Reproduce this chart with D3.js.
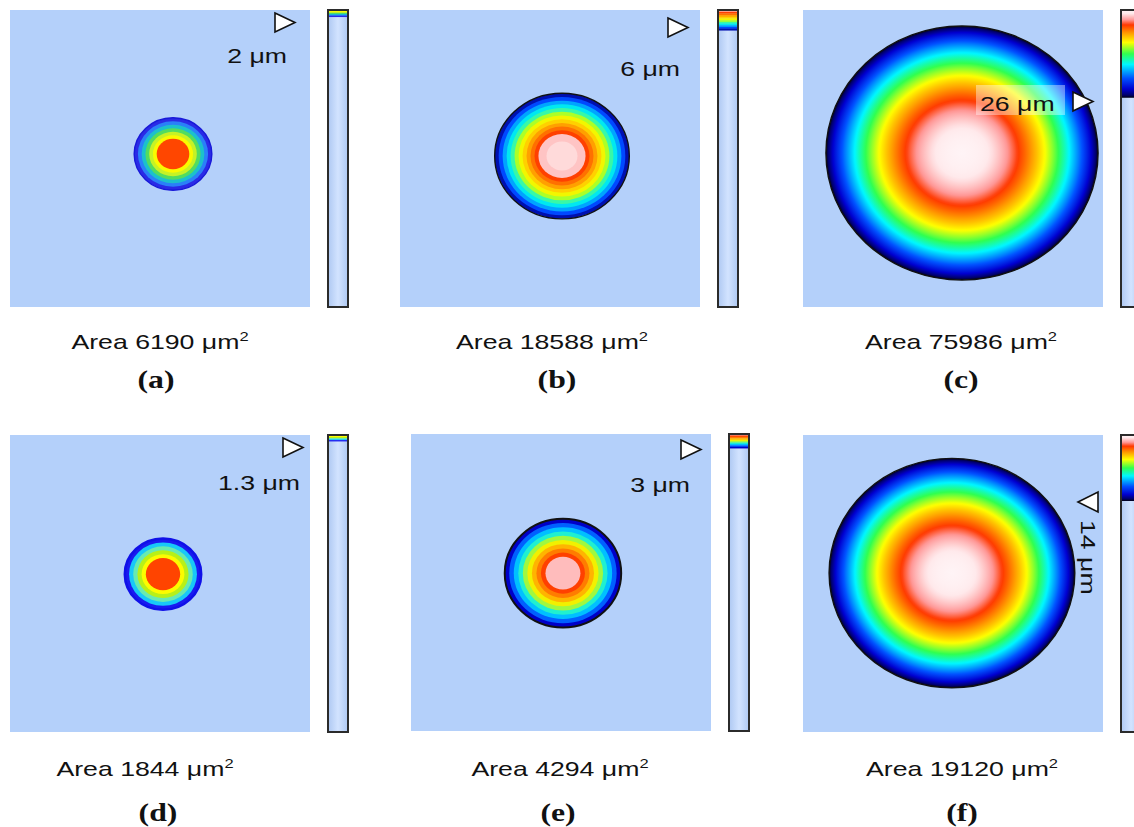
<!DOCTYPE html>
<html>
<head>
<meta charset="utf-8">
<script src="https://cdn.jsdelivr.net/npm/d3@7"></script>
<style>
  body { margin: 0; background: #fff; }
  svg { display: block; }
</style>
</head>
<body>
<svg id="fig" width="1134" height="827"></svg>
<script>
// ---- data ----
const panelIds = ["a", "b", "c", "d", "e", "f"];
const areas = [6190, 18588, 75986, 1844, 4294, 19120];      // um^2
const depths = [2, 6, 26, 1.3, 3, 14];                       // um
const fieldOfView = [360, 360, 360, 200, 200, 200];          // um across each map
const colorbarMax = [88, 88, 88, 63, 63, 63];                // um over the full bar
const craterX = [15.6, 14.4, 10.8, 2, 1.3, -0.7];            // crater centre offset, um
const craterY = [-5.4, -3, -6.6, -6.3, -6.3, -7];
// filled contour bands, rim -> centre (null = continuous shading)
const contourColors = [
    ["#2a2ae6", "#2a80f8", "#1cc0cc", "#52dc60", "#c6f226", "#fafa00"],
    ["#0010b0", "#0048ff", "#00a4ff", "#00e8f0", "#38f8a8", "#acff28", "#f2f600", "#ffd000", "#ffa000", "#ff7000", "#ff4000"],
    null,
    ["#1a1af0", "#18c8f8", "#68eab0", "#b8f018", "#fcfc00"],
    ["#0000c8", "#0060ff", "#00c0ff", "#20f0d0", "#a0f840", "#f2f000", "#ffb400", "#ff7c00", "#ff4000"],
    null
];
const coreColors = ["#ff4600", "#ffc4c4", null, "#ff4400", "#ffbcbc", null];
const coreFraction = [0.42, 0.35, null, 0.45, 0.3, null];
const innerCoreFraction = [null, 0.23, null, null, null, null];
const innerCoreColor = "#ffdada";
const rimColors = ["#1818d8", "#111", "#111", "#1010e8", "#111", "#111"];
// continuous colour map, 0 = rim, 1 = deepest point
const cmapStops = [0, 0.03, 0.1, 0.22, 0.38, 0.5, 0.63, 0.74, 0.83, 0.89, 0.96, 1];
const cmapColors = ["#000010", "#00006a", "#0000d0", "#0050ff", "#00f8ff", "#30ff50",
    "#ffff00", "#ff9800", "#ff3800", "#ff9a9a", "#ffe8ea", "#fff4f6"];

// ---- layout ----
const origins = [[10, 10], [400, 10], [803, 10], [10, 435], [411, 434], [803, 435]];
const captionX = [160, 552, 961, 145, 560, 962];
const letterX = [156, 557, 961, 158, 558, 962];
const captionY = [349, 349, 349, 776, 776, 776];
const letterY = [388, 388, 388, 821, 821, 821];
// depth marker: [triangle x, triangle y, text x, text y]
const markerPos = [[265, 3, 277, 53], [268, 8, 280, 66], [270, 82, 177, 101],
    [273, 3, 290, 55], [270, 6, 279, 58], [275, 57, 278, 85]];
const markerMode = ["corner", "corner", "boxed", "corner", "corner", "rotated"];

const mapW = 300, mapH = 297, barX = 318, barW = 20;
const stretchX = 1.05, stretchY = 0.99;   // scans are a touch wider than tall
const textStretch = 1.27;                 // lettering in the figure is stretched sideways
const bg = "#b4d0fa";
const sans = "'Liberation Sans', Arial, sans-serif";
const serif = "'Liberation Serif', 'Times New Roman', serif";

const cmap = d3.scaleLinear().domain(cmapStops).range(cmapColors).clamp(true);

const svg = d3.select("#fig");
const defs = svg.append("defs");

const barFill = defs.append("linearGradient").attr("id", "barFill")
    .attr("x1", 0).attr("x2", 1).attr("y1", 0).attr("y2", 0);
barFill.append("stop").attr("offset", 0).attr("stop-color", "#aec8f2");
barFill.append("stop").attr("offset", 0.5).attr("stop-color", "#d2e3ff");
barFill.append("stop").attr("offset", 1).attr("stop-color", "#aec8f2");

function tri(g, x0, y0, dir) {
    let pts;
    if (dir === "left") pts = [[x0, y0 + 10], [x0 + 20, y0], [x0 + 20, y0 + 20]];
    else pts = [[x0, y0], [x0 + 20, y0 + 9.5], [x0, y0 + 19]];
    g.append("path")
        .attr("d", d3.line()(pts) + "Z")
        .attr("fill", "#fff")
        .attr("stroke", "#111")
        .attr("stroke-width", 1.6);
}

panelIds.forEach(function (id, i) {
    const [ox, oy] = origins[i];
    const g = svg.append("g").attr("transform", `translate(${ox},${oy})`);
    const half = fieldOfView[i] / 2;
    const x = d3.scaleLinear().domain([-half, half]).range([0, mapW]);
    const y = d3.scaleLinear().domain([-half, half]).range([0, mapH]);

    defs.append("clipPath").attr("id", `clip-${id}`)
        .append("rect").attr("width", mapW).attr("height", mapH);

    g.append("rect").attr("width", mapW).attr("height", mapH).attr("fill", bg);

    const m = g.append("g").attr("clip-path", `url(#clip-${id})`);
    const rUm = Math.sqrt(areas[i] / Math.PI);
    const cx = x(craterX[i]), cy = y(craterY[i]);
    const rx = (x(rUm) - x(0)) * stretchX, ry = (y(rUm) - y(0)) * stretchY;

    const cols = contourColors[i];
    if (cols) {
        const n = cols.length, core = coreFraction[i];
        const rings = cols.map((c, k) => ({ f: 1 - k * (1 - core) / n, c: c }));
        rings.push({ f: core, c: coreColors[i] });
        if (innerCoreFraction[i]) rings.push({ f: innerCoreFraction[i], c: innerCoreColor });
        m.selectAll("ellipse.band").data(rings).enter().append("ellipse")
            .attr("class", "band")
            .attr("cx", cx).attr("cy", cy)
            .attr("rx", d => rx * d.f).attr("ry", d => ry * d.f)
            .attr("fill", d => d.c);
    } else {
        const grad = defs.append("radialGradient").attr("id", `grad-${id}`);
        // paraboloid crater: depth fraction t = 1 - rho^2
        d3.range(0, 81).forEach(function (s) {
            const t = 1 - s / 80;
            grad.append("stop")
                .attr("offset", Math.sqrt(1 - t))
                .attr("stop-color", cmap(t));
        });
        m.append("ellipse")
            .attr("cx", cx).attr("cy", cy).attr("rx", rx).attr("ry", ry)
            .attr("fill", `url(#grad-${id})`);
    }
    m.append("ellipse")
        .attr("cx", cx).attr("cy", cy).attr("rx", rx).attr("ry", ry)
        .attr("fill", "none")
        .attr("stroke", rimColors[i])
        .attr("stroke-width", i === 3 ? 2.6 : i === 4 ? 2 : 1.4);

    // colour bar
    const bar = d3.scaleLinear().domain([0, colorbarMax[i]]).range([0, mapH]);
    g.append("rect").attr("x", barX).attr("y", 0).attr("width", barW).attr("height", mapH)
        .attr("fill", "url(#barFill)");
    const hb = bar(depths[i]);
    if (cols) {
        const stripes = [coreColors[i]].concat(cols.slice().reverse());
        const sy = d3.scaleBand().domain(d3.range(stripes.length)).range([0, hb]);
        g.selectAll("rect.stripe").data(stripes).enter().append("rect")
            .attr("class", "stripe")
            .attr("x", barX).attr("y", (d, k) => sy(k))
            .attr("width", barW).attr("height", sy.bandwidth() + 0.3)
            .attr("fill", d => d);
    } else {
        const lg = defs.append("linearGradient").attr("id", `bar-${id}`)
            .attr("x1", 0).attr("x2", 0).attr("y1", 0).attr("y2", 1);
        cmapStops.slice().reverse().forEach(function (t) {
            lg.append("stop").attr("offset", 1 - t).attr("stop-color", cmap(t));
        });
        g.append("rect").attr("x", barX).attr("y", 0).attr("width", barW).attr("height", hb)
            .attr("fill", `url(#bar-${id})`);
    }
    g.append("rect").attr("x", barX).attr("y", 0).attr("width", barW).attr("height", mapH)
        .attr("fill", "none").attr("stroke", "#2b2b2b").attr("stroke-width", 2);

    // depth marker
    const [tx, ty, lx, ly] = markerPos[i];
    const label = `${depths[i]} \u03bcm`;
    if (markerMode[i] === "corner") {
        tri(g, tx, ty, "right");
        g.append("text").attr("transform", `translate(${lx},${ly}) scale(${textStretch},1)`)
            .attr("text-anchor", "end").attr("font-family", sans).attr("font-size", 21)
            .attr("fill", "#111").text(label);
    } else if (markerMode[i] === "boxed") {
        g.append("rect").attr("x", lx - 4).attr("y", ly - 26).attr("width", 89).attr("height", 30)
            .attr("fill", "#fff").attr("fill-opacity", 0.4);
        g.append("text").attr("transform", `translate(${lx},${ly}) scale(${textStretch},1)`)
            .attr("font-family", sans).attr("font-size", 21).attr("fill", "#111").text(label);
        tri(g, tx, ty, "right");
    } else {
        tri(g, tx, ty, "left");
        g.append("text").attr("transform", `translate(${lx},${ly}) rotate(90) scale(${textStretch},1)`)
            .attr("font-family", sans).attr("font-size", 21).attr("fill", "#111").text(label);
    }

    // captions
    const cap = svg.append("text")
        .attr("transform", `translate(${captionX[i]},${captionY[i]}) scale(${textStretch},1)`)
        .attr("text-anchor", "middle").attr("font-family", sans).attr("font-size", 21)
        .attr("fill", "#111");
    cap.append("tspan").text(`Area ${areas[i]} \u03bcm`);
    cap.append("tspan").attr("font-size", 13).attr("dy", -8).text("2");

    svg.append("text")
        .attr("transform", `translate(${letterX[i]},${letterY[i]}) scale(${textStretch},1)`)
        .attr("text-anchor", "middle").attr("font-family", serif).attr("font-size", 25)
        .attr("font-weight", "bold").attr("fill", "#111").text(`(${id})`);
});
</script>
</body>
</html>
